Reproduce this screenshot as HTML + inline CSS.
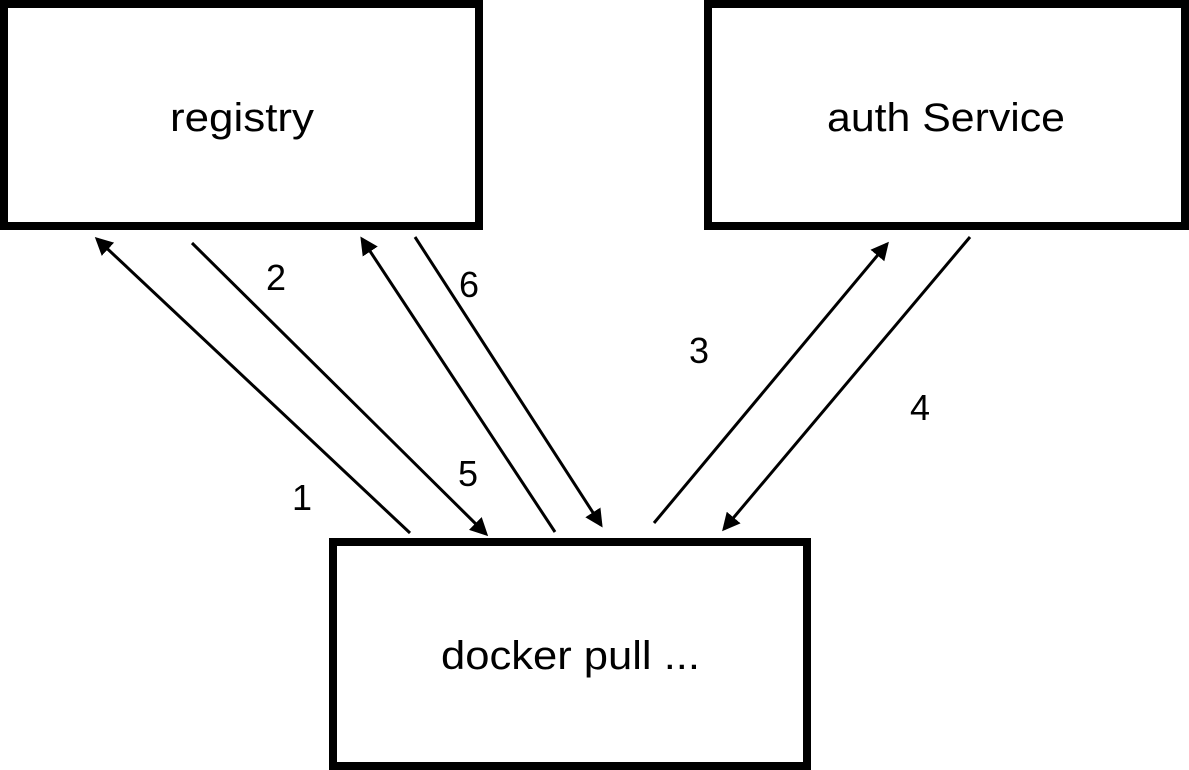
<!DOCTYPE html>
<html><head><style>body{margin:0;background:#fff}svg{display:block}</style></head><body>
<svg width="1189" height="770" xmlns="http://www.w3.org/2000/svg">
<defs><marker id="a" markerWidth="6" markerHeight="6" refX="5" refY="3" orient="auto" markerUnits="strokeWidth"><path d="M0,0 L6,3 L0,6 z" fill="#000"/></marker></defs>
<g fill="none" stroke="#000" stroke-width="8">
<rect x="4" y="4" width="475" height="222"/>
<rect x="708" y="4" width="477" height="222"/>
<rect x="333" y="542" width="474" height="224"/>
</g>
<g stroke="#000" stroke-width="3" marker-end="url(#a)">
<line x1="410" y1="533" x2="97" y2="239"/>
<line x1="192" y1="243" x2="486" y2="534"/>
<line x1="555" y1="532" x2="362" y2="239"/>
<line x1="415" y1="237" x2="601" y2="525"/>
<line x1="654" y1="523" x2="887" y2="244"/>
<line x1="970" y1="237" x2="724" y2="529"/>
</g>
<g font-family="Liberation Sans, sans-serif" font-size="40" fill="#000" lengthAdjust="spacingAndGlyphs">
<text x="170" y="131" textLength="144" lengthAdjust="spacingAndGlyphs">registry</text>
<text x="827" y="131" textLength="238" lengthAdjust="spacingAndGlyphs">auth Service</text>
<text x="441" y="669" textLength="259" lengthAdjust="spacingAndGlyphs">docker pull ...</text>
</g>
<g font-family="Liberation Sans, sans-serif" font-size="36" text-anchor="middle" fill="#000">
<text x="302" y="510">1</text>
<text x="276" y="290">2</text>
<text x="699" y="363">3</text>
<text x="920" y="420">4</text>
<text x="468" y="486">5</text>
<text x="469" y="297">6</text>
</g>
</svg>
</body></html>
